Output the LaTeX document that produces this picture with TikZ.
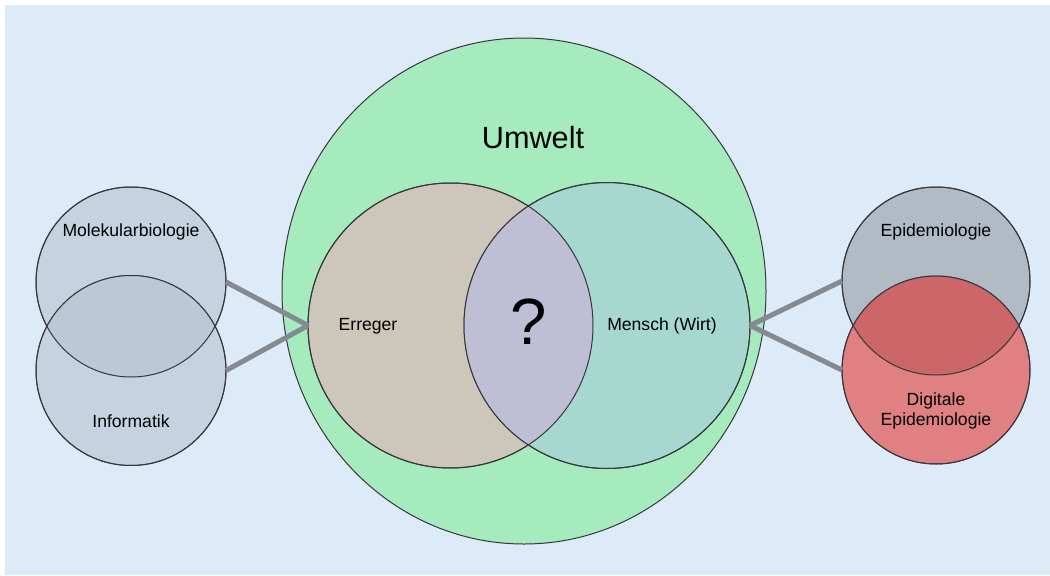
\documentclass[tikz,border=0pt]{standalone}
\usepackage{fontspec}
\setmainfont{Liberation Sans}
\usetikzlibrary{shapes.geometric}
\definecolor{bg}{RGB}{221,234,247}
\definecolor{umweltc}{RGB}{166,235,190}
\definecolor{errc}{RGB}{205,198,186}
\definecolor{menc}{RGB}{166,216,207}
\definecolor{lensc}{RGB}{190,190,212}
\definecolor{leftc}{RGB}{197,210,223}
\definecolor{leftov}{RGB}{187,200,214}
\definecolor{epic}{RGB}{177,187,197}
\definecolor{digc}{RGB}{224,128,131}
\definecolor{digov}{RGB}{205,102,104}
\definecolor{linkc}{RGB}{133,137,145}
\definecolor{outc}{RGB}{55,55,60}
\begin{document}
\begin{tikzpicture}[x=0.75pt,y=-0.75pt,
  circ/.style={circle, draw=outc, line width=0.75pt, inner sep=0pt, outer sep=0pt, minimum size=#1},
  ring/.style={draw=outc, line width=0.75pt},
  lbl/.style={font=\fontsize{13.2}{16}\selectfont, text=black, inner sep=0pt, align=center},
  link/.style={draw=linkc, line width=3.75pt}]
\fill[white] (0,0) rectangle (1050,575);
\fill[bg] (5,5) rectangle (1050,575);
\useasboundingbox (0,0) rectangle (1050,575);
% Umwelt
\node[ellipse, draw=outc, line width=0.75pt, fill=umweltc, minimum width=363pt, minimum height=379.5pt, inner sep=0pt, outer sep=0pt] (umwelt) at (524,291) {};
% Venn
\node[circ=213.75pt, fill=errc] (err) at (450.5,325.5) {};
\node[circ=214.5pt, fill=menc] (men) at (607,325.5) {};
\begin{scope}
  \clip (450.5,325.5) circle [radius=142.5];
  \fill[lensc] (607,325.5) circle [radius=143];
\end{scope}
\draw[ring] (err.center) circle [radius=142.5];
\draw[ring] (men.center) circle [radius=143];
% left
\node[circ=142.5pt, fill=leftc] (mol) at (131,282) {};
\node[circ=142.5pt, fill=leftc] (inf) at (131,370.5) {};
\begin{scope}
  \clip (131,282) circle [radius=95];
  \fill[leftov] (131,370.5) circle [radius=95];
\end{scope}
\draw[ring] (mol.center) circle [radius=95];
\draw[ring] (inf.center) circle [radius=95];
% right
\node[circ=141pt, fill=epic] (epi) at (936,281) {};
\node[circ=141pt, fill=digc] (dig) at (936,370) {};
\begin{scope}
  \clip (936,281) circle [radius=94];
  \fill[digov] (936,370) circle [radius=94];
\end{scope}
\draw[ring] (epi.center) circle [radius=94];
\draw[ring] (dig.center) circle [radius=94];
% links
\draw[link] (mol.east) -- (err.west);
\draw[link] (inf.east) -- (err.west);
\draw[link] (men.east) -- (epi.west);
\draw[link] (men.east) -- (dig.west);
% labels
\node[lbl, font=\fontsize{23}{27}\selectfont] (tumwelt) at (533,138) {Umwelt};
\node[lbl] (terr) at (368,326) {Erreger};
\node[lbl] (tmen) at (662,326) {Mensch (Wirt)};
\node[lbl, font=\fontsize{49}{55}\selectfont] (tq) at (529,322) {?};
\node[lbl] (tmol) at (131,232) {Molekularbiologie};
\node[lbl] (tinf) at (131,421) {Informatik};
\node[lbl] (tepi) at (936,232) {Epidemiologie};
\node[lbl, font=\fontsize{13.2}{15.3}\selectfont] (tdig) at (936,411) {Digitale\\Epidemiologie};
\end{tikzpicture}
\end{document}
